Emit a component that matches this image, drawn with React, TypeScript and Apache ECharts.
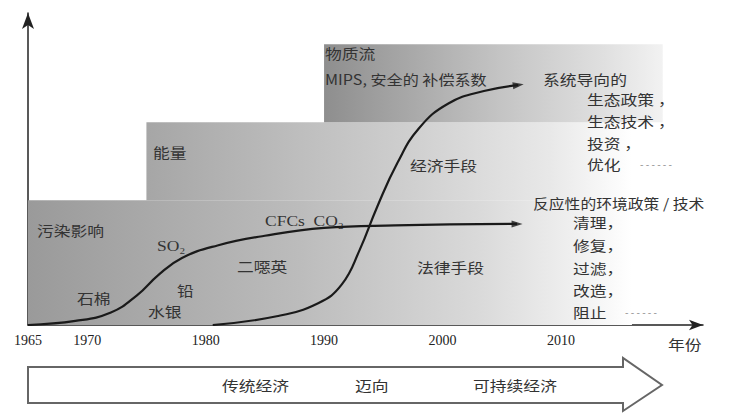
import React, { useEffect, useRef } from 'react';
import * as echarts from 'echarts';

// Axis ticks and labels (years)
const tickYears = [1975, 1980, 1985, 1990, 1995, 2000, 2005, 2010];
const labelYears = [1965, 1970, 1980, 1990, 2000, 2010];

// Stepped background bands: start year, end year, lower level, upper level
const bandStart = [1965, 1975, 1990];
const bandEnd = [2016, 2016, 2018.6];
const bandLow = [0, 40, 65];
const bandHigh = [40, 65, 90];

// Curve 1: pollution impacts (reactive environmental policy)
const pollutionYears = [1965, 1969, 1972, 1974.2, 1976, 1978, 1981, 1985, 1990, 1996, 2006.3];
const pollutionValues = [0, 1.3, 4.0, 9.5, 16.0, 21.5, 25.5, 28.6, 31.1, 31.9, 32.4];

// Curve 2: material flow / system-oriented policy
const economyYears = [1980.6, 1986, 1989.5, 1991.5, 1993, 1994.5, 1996.2, 1998, 2000.5, 2003.5, 2006.4];
const economyValues = [0, 2.8, 7.0, 13.0, 24.0, 38.0, 52.0, 63.0, 71.0, 75.0, 76.9];

const CJK = '"Noto Sans CJK SC", "Noto Sans CJK JP", sans-serif';
const SERIF = '"Liberation Serif", "DejaVu Serif", serif';

function txt(text: string, x: number, y: number, o: any = {}) {
  return {
    type: 'text',
    x,
    y,
    scaleX: o.sx ?? 1.2,
    z: 100,
    style: {
      text,
      fontSize: o.size ?? 14,
      fontFamily: o.family ?? CJK,
      fill: o.fill ?? '#333',
      align: 'left',
      verticalAlign: 'middle',
    },
  };
}

export default function App() {
  const ref = useRef<HTMLDivElement>(null);
  useEffect(() => {
    if (!ref.current) return;
    const chart = echarts.init(ref.current, null, { renderer: 'svg' });
    const bandColors = [
      [
        { offset: 0, color: '#9a9a9a' },
        { offset: 0.45, color: '#bcbcbc' },
        { offset: 0.75, color: '#dadada' },
        { offset: 0.92, color: '#f2f2f2' },
        { offset: 1, color: '#ffffff' },
      ],
      [
        { offset: 0, color: '#a6a6a6' },
        { offset: 0.53, color: '#cecece' },
        { offset: 0.83, color: '#e8e8e8' },
        { offset: 1, color: '#ffffff' },
      ],
      [
        { offset: 0, color: '#8e8e8e' },
        { offset: 0.52, color: '#c4c4c4' },
        { offset: 0.83, color: '#e0e0e0' },
        { offset: 1, color: '#f2f2f2' },
      ],
    ];
    const bandData = bandStart.map((s, i) => [s, bandEnd[i], bandLow[i], bandHigh[i]]);
    const arrowPath = 'path://M0,0L10,4L0,8Z';

    chart.setOption({
      animation: false,
      grid: { left: 28, right: 35, top: 13, bottom: 89, containLabel: false, outerBoundsMode: 'none' },
      xAxis: {
        type: 'value',
        min: 1965,
        max: 2022,
        splitLine: { show: false },
        axisLine: {
          show: true,
          onZero: false,
          symbol: ['none', 'arrow'],
          symbolSize: [8, 14],
          lineStyle: { color: '#222', width: 1.5 },
        },
        axisTick: {
          show: true,
          inside: true,
          length: 4,
          customValues: tickYears,
          lineStyle: { color: '#444' },
        },
        axisLabel: {
          show: true,
          customValues: labelYears,
          margin: 8,
          fontFamily: SERIF,
          fontSize: 14,
          color: '#222',
          formatter: (v: number) => String(v),
        },
      },
      yAxis: {
        type: 'value',
        min: 0,
        max: 100,
        splitLine: { show: false },
        axisTick: { show: false },
        axisLabel: { show: false },
        axisLine: {
          show: true,
          symbol: ['none', 'arrow'],
          symbolSize: [9, 16],
          lineStyle: { color: '#222', width: 1.5 },
        },
      },
      series: [
        {
          type: 'custom',
          z: 1,
          silent: true,
          data: bandData,
          renderItem: (params: any, api: any) => {
            const tl = api.coord([api.value(0), api.value(3)]);
            const br = api.coord([api.value(1), api.value(2)]);
            return {
              type: 'rect',
              shape: { x: tl[0], y: tl[1], width: br[0] - tl[0], height: br[1] - tl[1] },
              style: {
                fill: new echarts.graphic.LinearGradient(0, 0, 1, 0, bandColors[params.dataIndex]),
              },
            };
          },
        },
        {
          type: 'line',
          z: 5,
          smooth: 0.45,
          showSymbol: false,
          data: pollutionYears.map((y, i) => [y, pollutionValues[i]]),
          lineStyle: { color: '#1a1a1a', width: 2.2 },
        },
        {
          type: 'line',
          z: 5,
          smooth: 0.45,
          showSymbol: false,
          data: economyYears.map((y, i) => [y, economyValues[i]]),
          lineStyle: { color: '#1a1a1a', width: 2.2 },
        },
        {
          type: 'scatter',
          z: 6,
          symbol: arrowPath,
          symbolSize: [11, 7],
          symbolRotate: 0,
          itemStyle: { color: '#1a1a1a' },
          data: [[pollutionYears[pollutionYears.length - 1], pollutionValues[pollutionValues.length - 1]]],
        },
        {
          type: 'scatter',
          z: 6,
          symbol: arrowPath,
          symbolSize: [11, 7],
          symbolRotate: 8,
          itemStyle: { color: '#1a1a1a' },
          data: [[economyYears[economyYears.length - 1], economyValues[economyValues.length - 1]]],
        },
      ],
      graphic: [
        txt('物质流', 325, 53),
        txt('MIPS, 安全的 补偿系数', 325, 79, { sx: 1.15 }),
        txt('系统导向的', 543, 79),
        txt('生态政策 ，', 587, 99),
        txt('生态技术 ，', 587, 121),
        txt('投资 ，', 587, 143),
        txt('优化', 587, 164),
        txt('- - - - - -', 640, 163, { fill: '#888', size: 10, sx: 1 }),
        txt('经济手段', 410, 165),
        txt('能量', 153, 152),
        txt('反应性的环境政策 / 技术', 533, 203, { sx: 1.13 }),
        txt('清理，', 573, 222),
        txt('修复，', 573, 245),
        txt('过滤，', 573, 268),
        txt('改造，', 573, 290),
        txt('阻止', 573, 312),
        txt('- - - - - -', 625, 311, { fill: '#888', size: 10, sx: 1 }),
        txt('法律手段', 417, 267),
        txt('污染影响', 37, 230),
        txt('SO₂', 157, 246, { family: SERIF, size: 14, sx: 1.25 }),
        txt('CFCs  CO₂', 265, 221, { family: SERIF, size: 14, sx: 1.25 }),
        txt('二噁英', 237, 266),
        txt('铅', 177, 290),
        txt('石棉', 77, 298),
        txt('水银', 148, 311),
        txt('年份', 668, 344),
        {
          type: 'polygon',
          z: 50,
          shape: {
            points: [
              [28, 367],
              [623, 367],
              [623, 358],
              [662, 385],
              [623, 411],
              [623, 403],
              [28, 403],
            ],
          },
          style: { fill: '#fff', stroke: '#666', lineWidth: 2 },
        },
        txt('传统经济', 222, 385),
        txt('迈向', 355, 385),
        txt('可持续经济', 473, 385),
      ],
    });
    return () => chart.dispose();
  }, []);
  return (
    <div
      ref={ref}
      style={{ position: 'absolute', left: 0, top: 0, width: 738, height: 414, background: '#fff' }}
    />
  );
}
